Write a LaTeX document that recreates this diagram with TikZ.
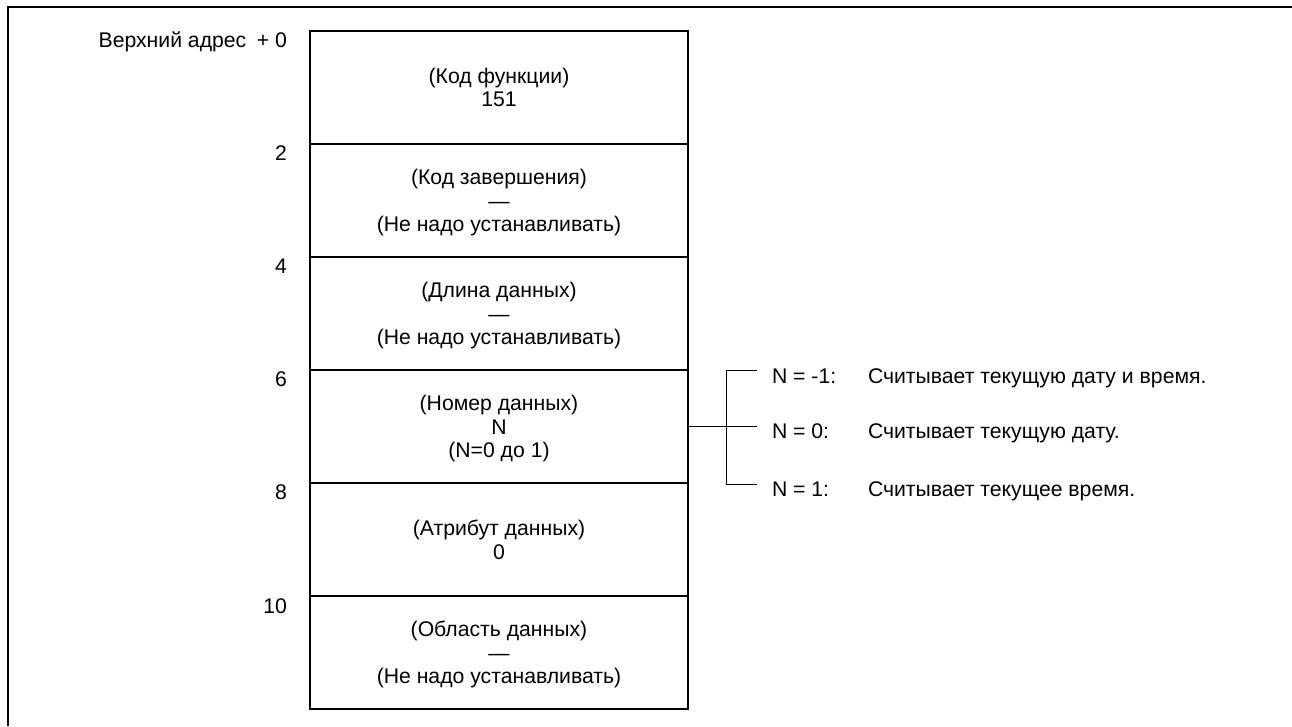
\documentclass[tikz,border=0pt]{standalone}
\usepackage{fontspec}
\setmainfont{Liberation Sans}
\begin{document}
\begin{tikzpicture}[x=0.75pt,y=-0.75pt,
  every node/.style={inner sep=0pt,outer sep=0pt,font=\fontsize{15.9}{17.6}\selectfont},
  row/.style={draw,line width=0.9pt,minimum width=283.5pt,minimum height=84.75pt,align=center,text depth=0pt},
  off/.style={anchor=base east},
  nlab/.style={anchor=base west},
  desc/.style={anchor=base west},
  conn/.style={line width=0.75pt}]
\useasboundingbox (0,0) rectangle (1292,726);
\draw[line width=2.2pt] (8,726) -- (8,7) -- (1292,7);
% rows
\node[row] (r0) at (499,87.5) {(Код функции)\\151};
\node[row] (r1) at (499,200.5) {(Код завершения)\\—\\(Не надо устанавливать)};
\node[row] (r2) at (499,313.5) {(Длина данных)\\—\\(Не надо устанавливать)};
\node[row] (r3) at (499,426.5) {(Номер данных)\\N\\(N=0 до 1)};
\node[row] (r4) at (499,539.5) {(Атрибут данных)\\0};
\node[row] (r5) at (499,652.5) {(Область данных)\\—\\(Не надо устанавливать)};
% offsets
\node[off] (o0) at (287,47.5) {Верхний адрес\hspace{0.5em}+ 0};
\node[off] (o1) at (287,160.5) {2};
\node[off] (o2) at (287,273.5) {4};
\node[off] (o3) at (287,386.5) {6};
\node[off] (o4) at (287,499.5) {8};
\node[off] (o5) at (287,613) {10};
% branch
\coordinate (j1) at (726,370);
\coordinate (j3) at (726,484);
\coordinate (b1) at (757,370);
\coordinate (b3) at (757,484);
\coordinate (b2) at (r3.east -| b1);
\node[nlab] (n1) at (772,383.5) {N = -1:};
\node[nlab] (n2) at (772,438.5) {N = 0:};
\node[nlab] (n3) at (772,496) {N = 1:};
\node[desc] (d1) at (868,383.5) {Считывает текущую дату и время.};
\node[desc] (d2) at (868,438.5) {Считывает текущую дату.};
\node[desc] (d3) at (868,496) {Считывает текущее время.};
\draw[conn] (r3.east) -- (b2);
\draw[conn] (b1) -- (j1) -- (j3) -- (b3);
\end{tikzpicture}
\end{document}
